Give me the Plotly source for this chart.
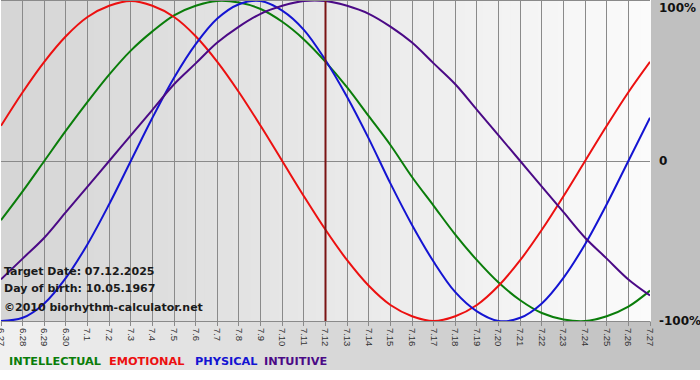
import plotly.graph_objects as go

# ---- data ----
dates = ["6.27", "6.28", "6.29", "6.30", "7.1", "7.2", "7.3", "7.4", "7.5", "7.6",
         "7.7", "7.8", "7.9", "7.10", "7.11", "7.12", "7.13", "7.14", "7.15", "7.16",
         "7.17", "7.18", "7.19", "7.20", "7.21", "7.22", "7.23", "7.24", "7.25", "7.26", "7.27"]

intellectual = [-0.37, -0.19, 0.00, 0.19, 0.37, 0.54, 0.69, 0.81, 0.91, 0.97,
                1.00, 0.99, 0.95, 0.87, 0.76, 0.62, 0.46, 0.28, 0.10, -0.10,
                -0.28, -0.46, -0.62, -0.76, -0.87, -0.95, -0.99, -1.00, -0.97, -0.91, -0.81]
emotional = [0.22, 0.43, 0.62, 0.78, 0.90, 0.97, 1.00, 0.97, 0.90, 0.78,
             0.62, 0.43, 0.22, 0.00, -0.22, -0.43, -0.62, -0.78, -0.90, -0.97,
             -1.00, -0.97, -0.90, -0.78, -0.62, -0.43, -0.22, 0.00, 0.22, 0.43, 0.62]
physical = [-1.00, -0.98, -0.89, -0.73, -0.52, -0.27, 0.00, 0.27, 0.52, 0.73,
            0.89, 0.98, 1.00, 0.94, 0.82, 0.63, 0.40, 0.14, -0.14, -0.40,
            -0.63, -0.82, -0.94, -1.00, -0.98, -0.89, -0.73, -0.52, -0.27, 0.00, 0.27]
intuitive = [-0.74, -0.61, -0.48, -0.32, -0.16, 0.00, 0.16, 0.32, 0.48, 0.61,
             0.74, 0.84, 0.92, 0.97, 1.00, 1.00, 0.97, 0.92, 0.84, 0.74,
             0.61, 0.48, 0.32, 0.16, 0.00, -0.16, -0.32, -0.48, -0.61, -0.74, -0.84]

target_label = "7.12"
target_text = "Target Date: 07.12.2025"
birth_text = "Day of birth: 10.05.1967"
copyright_text = "\u00a92010 biorhythm-calculator.net"
y_labels = ["100%", "0", "-100%"]
y_label_vals = [1, 0, -1]

series = [
    ("INTELLECTUAL", intellectual, "#0a7d0a"),
    ("EMOTIONAL", emotional, "#ec1010"),
    ("PHYSICAL", physical, "#1414d2"),
    ("INTUITIVE", intuitive, "#4b0a86"),
]

# ---- geometry ----
W, H = 700, 380
L, R, T, B = 1, 50, 1, 59
PW, PH = W - L - R, H - T - B


def px(x):
    return (x - L) / PW


def py(y):
    return (H - B - y) / PH


def lerp_col(c1, c2, t):
    return "rgb(%d,%d,%d)" % tuple(round(a + (b - a) * t) for a, b in zip(c1, c2))


fig = go.Figure()

for name, vals, col in series:
    fig.add_trace(go.Scatter(
        x=dates, y=vals, mode="lines", name=name,
        line=dict(color=col, width=2, shape="spline", smoothing=1.0),
        showlegend=False, hoverinfo="skip",
    ))

shapes = []
# plot-area gradient (left darker -> right lighter)
n = 70
for i in range(n):
    shapes.append(dict(type="rect", xref="paper", yref="paper",
                       x0=i / n, x1=(i + 1) / n + 0.002, y0=0, y1=1,
                       fillcolor=lerp_col((213, 213, 213), (251, 251, 251), i / (n - 1)),
                       line=dict(width=0), layer="below"))
# right margin
shapes.append(dict(type="rect", xref="paper", yref="paper",
                   x0=px(651), x1=px(700), y0=py(321), y1=py(-1),
                   fillcolor="#c0c0c0", line=dict(width=0), layer="below"))
# bottom area gradient (left lighter -> right darker)
for i in range(n):
    x0 = i * W / n
    x1 = (i + 1) * W / n + 1
    shapes.append(dict(type="rect", xref="paper", yref="paper",
                       x0=px(x0), x1=px(x1), y0=py(370), y1=py(321),
                       fillcolor=lerp_col((240, 240, 240), (190, 190, 190), i / (n - 1)),
                       line=dict(width=0), layer="below"))
# target date line
ti = dates.index(target_label)
shapes.append(dict(type="line", xref="x", yref="paper", x0=ti, x1=ti, y0=0, y1=1,
                   line=dict(color="#7a1414", width=2), layer="above"))

annotations = []
for txt, v in zip(y_labels, y_label_vals):
    ypix = 161 + (-v) * 160
    if v == 1:
        ypix = 8
    annotations.append(dict(text="<b>%s</b>" % txt, xref="paper", yref="paper",
                            x=px(657), y=py(ypix), xanchor="left", yanchor="middle",
                            showarrow=False,
                            font=dict(family="DejaVu Sans", size=12, color="#111111")))

for txt, ypix in [(target_text, 271.5), (birth_text, 288), (copyright_text, 307)]:
    annotations.append(dict(text="<b>%s</b>" % txt, xref="paper", yref="paper",
                            x=px(2), y=py(ypix), xanchor="left", yanchor="middle",
                            showarrow=False,
                            font=dict(family="DejaVu Sans", size=11, color="#1a1a1a")))

legend_x = [7, 107, 193, 262]
for (name, vals, col), lx in zip(series, legend_x):
    annotations.append(dict(text="<b>%s</b>" % name, xref="paper", yref="paper",
                            x=px(lx), y=py(361), xanchor="left", yanchor="middle",
                            showarrow=False,
                            font=dict(family="DejaVu Sans", size=11.3, color=col)))

fig.update_layout(
    width=W, height=H,
    margin=dict(l=L, r=R, t=T, b=B, pad=0, autoexpand=False),
    paper_bgcolor="white",
    plot_bgcolor="rgba(0,0,0,0)",
    shapes=shapes,
    annotations=annotations,
    xaxis=dict(type="category", range=[0, len(dates) - 1], automargin=False,
               showgrid=True, gridcolor="#8a8a8a", gridwidth=1,
               ticks="outside", ticklen=4, tickcolor="#8a8a8a",
               tickangle=90, tickfont=dict(family="Liberation Sans", size=9.5, color="#333333"),
               showline=True, linecolor="#8a8a8a", linewidth=1, mirror=True,
               zeroline=False, fixedrange=True),
    yaxis=dict(range=[-1, 1], showgrid=False, showticklabels=False, ticks="",
               automargin=False,
               zeroline=True, zerolinecolor="#8a8a8a", zerolinewidth=1,
               showline=False, fixedrange=True),
    showlegend=False,
)

fig.write_html("out.html", config={"displayModeBar": False, "staticPlot": True},
               post_script="document.body.style.margin='0';document.body.style.padding='0';")
